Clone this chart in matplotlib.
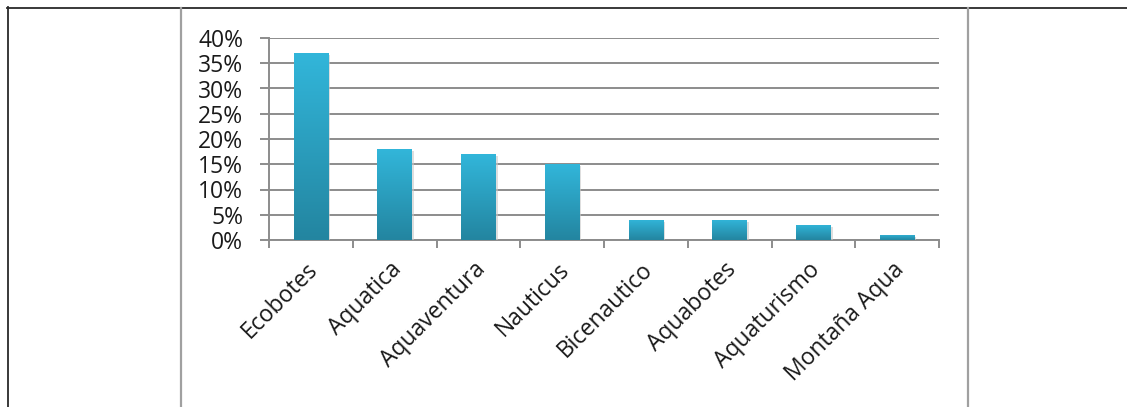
import matplotlib
matplotlib.use("Agg")
import matplotlib.pyplot as plt
import numpy as np
from matplotlib.lines import Line2D
from matplotlib.ticker import FuncFormatter
from matplotlib.colors import LinearSegmentedColormap
from matplotlib.transforms import ScaledTranslation
import matplotlib.patheffects as pe

categories = ["Ecobotes", "Aquatica", "Aquaventura", "Nauticus",
              "Bicenautico", "Aquabotes", "Aquaturismo", "Montaña Aqua"]
values = [37, 18, 17, 15, 4, 4, 3, 1]
y_ticks = [0, 5, 10, 15, 20, 25, 30, 35, 40]

plt.rcParams['font.family'] = ['Open Sans', 'DejaVu Sans']

W, H = 1127, 407
fig = plt.figure(figsize=(W / 100, H / 100), dpi=100)
fig.patch.set_facecolor('white')

def hline(y, x0, x1, color, lw):
    fig.add_artist(Line2D([x0 / W, x1 / W], [1 - y / H, 1 - y / H], color=color, lw=lw,
                          transform=fig.transFigure))

def vline(x, y0, y1, color, lw):
    fig.add_artist(Line2D([x / W, x / W], [1 - y0 / H, 1 - y1 / H], color=color, lw=lw,
                          transform=fig.transFigure))

hline(7.5, 7, W, '#2a2a2a', 1.3)
vline(7.5, 7, H, '#2a2a2a', 1.3)
vline(181, 8, H, '#a0a0a0', 1.6)
vline(968, 8, H, '#a0a0a0', 1.6)

ax = fig.add_axes([269 / W, 1 - 240 / H, (939 - 269) / W, (240 - 38) / H])
ax.set_facecolor('none')

x = np.arange(len(categories))
bars = ax.bar(x, values, width=0.41, color='#2ba6c8', zorder=3,
              path_effects=[pe.SimplePatchShadow(offset=(1.5, -1.5), shadow_rgbFace='#c8c8c8', alpha=0.6),
                            pe.Normal()])

grad = np.linspace(0, 1, 256).reshape(-1, 1)
cmap = LinearSegmentedColormap.from_list('g', ['#2385a0', '#32b6da'])
for b in bars:
    bx, by, bw, bh = b.get_x(), b.get_y(), b.get_width(), b.get_height()
    im = ax.imshow(grad, cmap=cmap, extent=[bx, bx + bw, by, by + bh], origin='lower',
                   aspect='auto', zorder=4)
    im.set_clip_path(b)

ax.set_xlim(-0.5, len(categories) - 0.5)
ax.set_ylim(0, 40)
ax.set_yticks(y_ticks)
ax.yaxis.set_major_formatter(FuncFormatter(lambda v, p: f"{int(v)}%"))
ax.yaxis.grid(True, color='#8c8c8c', lw=1.4, zorder=1)
ax.set_axisbelow(True)

ax.set_xticks(x)
ax.set_xticklabels(categories, rotation=45, ha='right', rotation_mode='anchor',
                   fontsize=16.5, color='#1a1a1a')
ax.tick_params(axis='x', length=0, pad=10)
shift = ScaledTranslation(-5 / 100, -4 / 100, fig.dpi_scale_trans)
for lab in ax.get_xticklabels():
    lab.set_transform(lab.get_transform() + shift)
ax.set_xticks(np.arange(-0.5, len(categories), 1), minor=True)
ax.tick_params(axis='x', which='minor', length=6, width=1.4, color='#8c8c8c', direction='out')
ax.tick_params(axis='y', length=6.5, width=1.4, color='#8c8c8c', direction='out',
               labelsize=16.5, labelcolor='#1a1a1a', pad=12)

for s in ['top', 'right']:
    ax.spines[s].set_visible(False)
for s in ['left', 'bottom']:
    ax.spines[s].set_color('#8c8c8c')
    ax.spines[s].set_linewidth(1.4)

fig.savefig('out.png', dpi=100, facecolor='white')
